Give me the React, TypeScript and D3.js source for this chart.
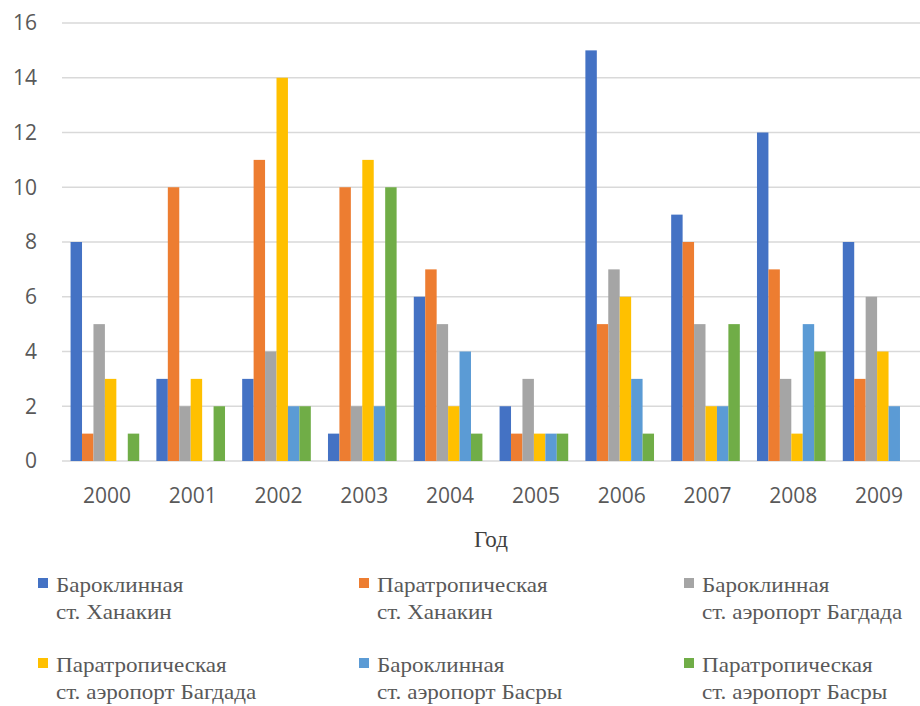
import * as d3 from "d3";

const years = ["2000", "2001", "2002", "2003", "2004", "2005", "2006", "2007", "2008", "2009"];

const seriesNames = [
  ["Бароклинная", "ст. Ханакин"],
  ["Паратропическая", "ст. Ханакин"],
  ["Бароклинная", "ст. аэропорт Багдада"],
  ["Паратропическая", "ст. аэропорт Багдада"],
  ["Бароклинная", "ст. аэропорт Басры"],
  ["Паратропическая", "ст. аэропорт Басры"],
];

const colors = ["#4472C4", "#ED7D31", "#A5A5A5", "#FFC000", "#5B9BD5", "#70AD47"];

const barHanakin = [8, 3, 3, 1, 6, 2, 15, 9, 12, 8];
const paraHanakin = [1, 10, 11, 10, 7, 1, 5, 8, 7, 3];
const barBaghdad = [5, 2, 4, 2, 5, 3, 7, 5, 3, 6];
const paraBaghdad = [3, 3, 14, 11, 2, 1, 6, 2, 1, 4];
const barBasra = [0, 0, 2, 2, 4, 1, 3, 2, 5, 2];
const paraBasra = [1, 2, 2, 10, 1, 1, 1, 5, 4, 0];

const series = [barHanakin, paraHanakin, barBaghdad, paraBaghdad, barBasra, paraBasra];
const yTicks = [0, 2, 4, 6, 8, 10, 12, 14, 16];

const W = 920;
const H = 706;
const margin = { top: 23, right: 0, bottom: 245, left: 62 };

export default function App() {
  const plotB = H - margin.bottom;
  const x0 = d3
    .scaleBand()
    .domain(years)
    .range([margin.left, W - margin.right])
    .paddingInner(0.2)
    .paddingOuter(0.1);
  const x1 = d3
    .scaleBand()
    .domain(series.map((_, i) => String(i)))
    .range([0, x0.bandwidth()]);
  const y = d3.scaleLinear().domain([0, 16]).range([plotB, margin.top]);

  const legendCols = [43, 364, 689];
  const legendRows = [583, 663];
  const axisFont = "'Open Sans', 'Liberation Sans', sans-serif";
  const serif = "'Liberation Serif', 'DejaVu Serif', serif";

  return (
    <svg
      width={W}
      height={H}
      style={{ position: "absolute", left: 0, top: 0, background: "#fff" }}
    >
      {/* gridlines */}
      {yTicks.map((t) => (
        <line
          key={t}
          x1={margin.left}
          x2={W - margin.right}
          y1={y(t)}
          y2={y(t)}
          stroke="#d9d9d9"
          strokeWidth={1.5}
        />
      ))}
      {yTicks.map((t) => (
        <text
          key={"yl" + t}
          x={37}
          y={y(t)}
          dy="0.35em"
          textAnchor="end"
          fontSize={21}
          fontFamily={axisFont}
          fill="#595959"
        >
          {t}
        </text>
      ))}

      {/* bars */}
      {years.map((yr, yi) => (
        <g key={yr} transform={`translate(${x0(yr)},0)`}>
          {series.map((s, si) =>
            s[yi] > 0 ? (
              <rect
                key={si}
                x={x1(String(si))}
                y={y(s[yi])}
                width={x1.bandwidth()}
                height={plotB - y(s[yi])}
                fill={colors[si]}
              />
            ) : null,
          )}
        </g>
      ))}

      {/* x labels */}
      {years.map((yr) => (
        <text
          key={"xl" + yr}
          x={(x0(yr) ?? 0) + x0.bandwidth() / 2 + 2}
          y={496}
          dy="0.35em"
          textAnchor="middle"
          fontSize={21}
          fontFamily={axisFont}
          fill="#595959"
        >
          {yr}
        </text>
      ))}

      <text
        x={(margin.left + W - margin.right) / 2}
        y={547}
        textAnchor="middle"
        fontSize={23}
        fontFamily={serif}
        fill="#404040"
      >
        Год
      </text>

      {/* legend */}
      {seriesNames.map((nm, i) => {
        const lx = legendCols[i % 3];
        const ly = legendRows[Math.floor(i / 3)];
        return (
          <g key={"lg" + i}>
            <rect x={lx - 5} y={ly - 5} width={10} height={10} fill={colors[i]} />
            <g transform={`translate(${lx + 13},${ly + 9}) scale(1.1,1)`}>
              <text x={0} y={0} fontSize={21} fontFamily={serif} fill="#595959">
                {nm[0]}
              </text>
              <text x={0} y={27} fontSize={21} fontFamily={serif} fill="#595959">
                {nm[1]}
              </text>
            </g>
          </g>
        );
      })}
    </svg>
  );
}
